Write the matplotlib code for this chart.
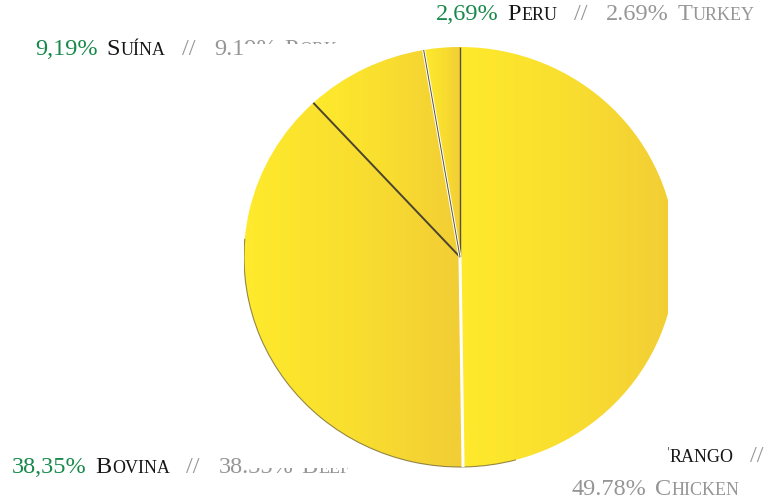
import matplotlib
matplotlib.use('Agg')
import matplotlib.pyplot as plt
import numpy as np
from matplotlib.colors import LinearSegmentedColormap
from matplotlib.patches import Rectangle, Arc

# ---- data ----
labels_pt = ["Frango", "Bovina", "Suína", "Peru"]
labels_en = ["Chicken", "Beef", "Pork", "Turkey"]
values = [49.78, 38.35, 9.19, 2.69]
pct_pt = ["49,78%", "38,35%", "9,19%", "2,69%"]
pct_en = ["49.78%", "38.35%", "9.19%", "2.69%"]

W, H = 774, 499
SERIF = ['Liberation Serif', 'DejaVu Serif']
GREEN = '#17894a'
BLACK = '#161616'
GRAY = '#969696'
BIG, SMALL = 17.5, 13

fig = plt.figure(figsize=(W / 100, H / 100), dpi=100)
bg = fig.add_axes([0, 0, 1, 1])
bg.set_xlim(0, W)
bg.set_ylim(H, 0)
bg.axis('off')
renderer = fig.canvas.get_renderer()


def smallcaps(word, color, gap):
    return [(word[0].upper(), color, BIG, 0.5), (word[1:].upper(), color, SMALL, gap)]


def rich(x, y, pieces):
    for txt, color, size, gap in pieces:
        t = bg.text(x, y, txt, color=color, fontsize=size, family=SERIF,
                    va='baseline', ha='left', zorder=1)
        bb = t.get_window_extent(renderer)
        x += bb.width + gap


def label_pieces(i, both=True):
    p = [(pct_pt[i], GREEN, BIG, 9)] + smallcaps(labels_pt[i], BLACK, 16) + \
        [("//", GRAY, BIG, 19)]
    if both:
        p += [(pct_en[i], GRAY, BIG, 8)] + smallcaps(labels_en[i], GRAY, 0)
    return p


# label placement (pixels, baseline)
pos = {0: (572, 462), 1: (12, 473), 2: (35, 55), 3: (436, 20)}
for i in [1, 2, 3]:
    rich(*pos[i], label_pieces(i))
# chicken label on two lines
rich(*pos[0], label_pieces(0, both=False))
rich(pos[0][0], pos[0][1] + 33,
     [(pct_en[0], GRAY, BIG, 8)] + smallcaps(labels_en[0], GRAY, 0))

# white box of the pie image occluding labels
box = (244, 44, 668, 468)  # left, top, right, bottom
bg.add_patch(Rectangle((box[0], box[1]), box[2] - box[0], box[3] - box[1],
                       facecolor='white', edgecolor='none', zorder=5))

# ---- pie ----
cx, cy, rx, ry = 460, 257, 216, 210
ax = fig.add_axes([box[0] / W, 1 - box[3] / H, (box[2] - box[0]) / W, (box[3] - box[1]) / H])
wedges, _ = ax.pie(values, startangle=90, counterclock=False, radius=1, center=(0, 0))

cmap = LinearSegmentedColormap.from_list('yel', ['#FFEA2C', '#F9DE2F', '#F2CD36'])
grad = np.linspace(0, 1, 256).reshape(1, -1)
for w in wedges:
    w.set_facecolor('none')
    w.set_edgecolor('none')
    ext = w.get_path().get_extents()
    im = ax.imshow(grad, cmap=cmap, extent=(ext.x0, ext.x1, ext.y0, ext.y1),
                   aspect='auto', interpolation='bicubic', zorder=1)
    im.set_clip_path(w)

cum = np.concatenate([[0], np.cumsum(values)]) / np.sum(values)
ang = np.deg2rad(90 - 360 * cum)
styles = [
    [('#5a5232', 1.0)],                      # turkey / chicken
    [('white', 2.2)],                        # chicken / beef
    [('#4a4430', 1.4)],                      # beef / pork
    [('white', 2.2), ('#5a5232', 0.7)],      # pork / turkey
]
for k, st in enumerate(styles):
    for col, lw in st:
        ax.plot([0, np.cos(ang[k])], [0, np.sin(ang[k])], color=col, lw=lw,
                zorder=3, solid_capstyle='butt')

ax.add_patch(Arc((0, 0), 2, 2, theta1=175, theta2=285, color='#7a6c30', lw=0.8,
                 alpha=0.8, zorder=2))

ax.set_xlim((box[0] - cx) / rx, (box[2] - cx) / rx)
ax.set_ylim((cy - box[3]) / ry, (cy - box[1]) / ry)
ax.set_aspect('auto')
ax.axis('off')

fig.savefig('out.png', dpi=100)
